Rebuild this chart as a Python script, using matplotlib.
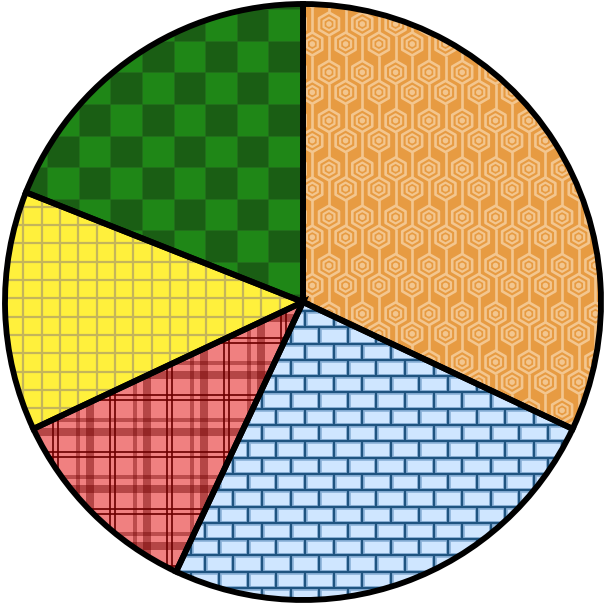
import matplotlib
matplotlib.use('Agg')
import matplotlib.pyplot as plt
import numpy as np
from matplotlib.collections import LineCollection, PatchCollection
from matplotlib.patches import Rectangle, RegularPolygon, Circle

# slice shares in %, clockwise from 12 o'clock
shares = [32, 25, 11, 13, 19]
fills = ['#E79B42', '#CFE6FF', '#F08080', '#FFF03C', '#1F8717']

fig = plt.figure(figsize=(6.05, 6.05), dpi=100)
ax = fig.add_axes([0, 0, 1, 1])

# y axis is flipped below, so counterclock in data = clockwise on screen
wedges, _ = ax.pie(shares, colors=fills, startangle=-90, counterclock=True,
                   radius=298, center=(303, 302), wedgeprops=dict(linewidth=0))
orange, blue, red, yellow, green = wedges


def clip(artist, wedge):
    artist.set_clip_path(wedge)
    artist.set_zorder(2)
    ax.add_artist(artist)


# orange: hexagon rings with vertical connectors
R = 11.5
per = 48.3
centers = []
for k in range(-1, 11):
    for m in range(-1, 11):
        centers.append((329 + 33.3 * m, 24 + per * k))
        centers.append((312.3 + 33.3 * m, 44 + per * k))
light = '#F3C68F'
outer = PatchCollection([RegularPolygon(c, 6, radius=R) for c in centers],
                        facecolor='none', edgecolor=light, linewidth=1.9)
inner = PatchCollection([RegularPolygon(c, 6, radius=6.3) for c in centers],
                        facecolor='none', edgecolor=light, linewidth=1.6)
dots = PatchCollection([Circle(c, 2.8) for c in centers], facecolor=light, edgecolor='none')
links = LineCollection([[(x, y + R), (x, y + per - R)] for x, y in centers],
                       colors=light, linewidths=1.9)
for a in (outer, inner, dots, links):
    clip(a, orange)

# blue: bricks
h = 16.3
w = 28.6
segs = []
for k in range(-9, 14):
    y = 425 + h * k
    segs.append([(150, y), (605, y)])
    x0 = 290.5 if k % 2 == 0 else 305
    for m in range(-8, 12):
        x = x0 + w * m
        segs.append([(x, y), (x, y + h)])
clip(LineCollection(segs, colors='#8DB3D9', linewidths=3.4), blue)
clip(LineCollection(segs, colors='#1F5480', linewidths=1.6), blue)

# red: plaid
p = 57
stripes = []
for k in range(-4, 10):
    for off, wd, al in [(0, 8, 0.45), (20, 2, 0.85), (25, 2, 0.85), (45, 4, 0.4)]:
        x = 90 + p * k + off
        stripes.append(Rectangle((x - wd / 2, 0), wd, 605, color='#6E0000', alpha=al, linewidth=0))
        y = 432 + p * k + off
        stripes.append(Rectangle((0, y - wd / 2), 605, wd, color='#6E0000', alpha=al, linewidth=0))
for s in stripes:
    clip(s, red)

# yellow: grid
g = 18.3
segs = []
for k in range(-3, 20):
    x = 41.7 + g * (k - 2)
    segs.append([(x, 150), (x, 450)])
    y = 261.7 + g * (k - 8)
    segs.append([(0, y), (320, y)])
clip(LineCollection(segs, colors='#C4B55A', linewidths=1.6), yellow)

# green: checkerboard
s = 31.6
squares = []
for i in range(0, 11):
    for j in range(-4, 7):
        if (i + j) % 2 == 0:
            squares.append(Rectangle((300 - s * (i + 1), 104 + s * j), s, s))
clip(PatchCollection(squares, facecolor='#1A5E14', edgecolor='#23701B', linewidth=0.6), green)

# outlines on top
outl, _ = ax.pie(shares, colors=['none'] * 5, startangle=-90, counterclock=True,
                 radius=298, center=(303, 302),
                 wedgeprops=dict(edgecolor='black', linewidth=4.2, fill=False))
for o in outl:
    o.set_zorder(10)

ax.set_xlim(0, 605)
ax.set_ylim(605, 0)
ax.set_aspect('equal')
ax.axis('off')
fig.savefig('out.png', dpi=100)
